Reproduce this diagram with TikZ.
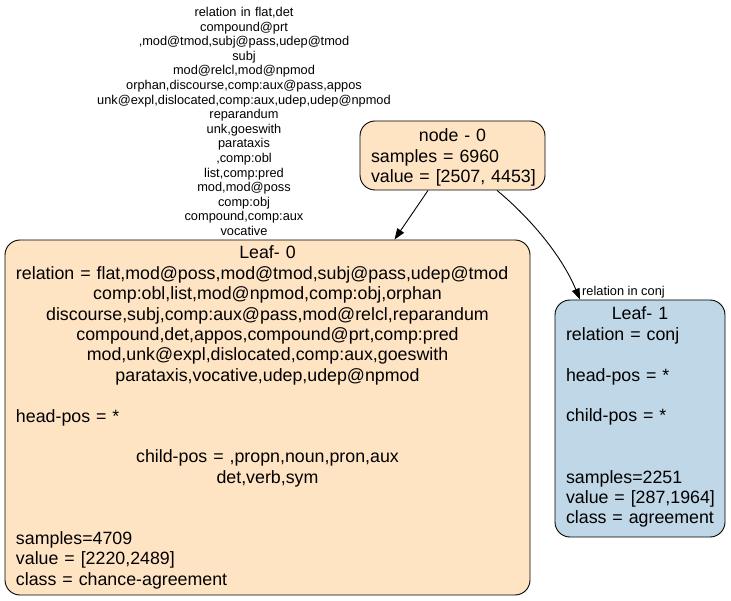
\documentclass[tikz,border=0pt]{standalone}
\usepackage{fontspec}
\setmainfont{Liberation Sans}
\usetikzlibrary{arrows.meta}
\definecolor{bisquec}{HTML}{FFE4C4}
\definecolor{leafblue}{HTML}{BFD7E6}
\tikzset{
  box/.style={draw=black, line width=0.9pt, rounded corners=15pt, inner sep=0pt},
  txt/.style={anchor=base, inner sep=0pt, align=center, font=\fontsize{17.8}{20.4}\selectfont},
  elabel/.style={anchor=base, inner sep=0pt, align=center, font=\fontsize{12.8}{14.6}\selectfont},
  edge/.style={line width=0.9pt, -{Triangle[length=11pt,width=8pt]}},
}
\newcommand{\lft}[1]{\makebox[\linewidth][l]{#1}}
\begin{document}
\begin{tikzpicture}[x=1pt,y=-1pt]
\useasboundingbox (0,0) rectangle (731,601);
% boxes
\node[box, fill=bisquec, minimum width=185pt, minimum height=69pt] (n0) at (452.5,155.5) {};
\node[box, fill=bisquec, minimum width=525pt, minimum height=355pt] (l0) at (267.5,417.5) {};
\node[box, fill=leafblue, minimum width=170pt, minimum height=237pt] (l1) at (640,418.5) {};
% texts
\node[txt, text width=163pt] (t0) at (452.5,142) {node - 0\\ \lft{samples = 6960}\\ \lft{value = [2507, 4453]}};
\node[txt, text width=503pt] (t1) at (267.5,259) {Leaf- 0\\
\lft{relation = flat,mod@poss,mod@tmod,subj@pass,udep@tmod}\\
comp:obl,list,mod@npmod,comp:obj,orphan\\
discourse,subj,comp:aux@pass,mod@relcl,reparandum\\
compound,det,appos,compound@prt,comp:pred\\
mod,unk@expl,dislocated,comp:aux,goeswith\\
parataxis,vocative,udep,udep@npmod\\
\mbox{}\\
\lft{head-pos = *}\\
\mbox{}\\
child-pos = ,propn,noun,pron,aux\\
det,verb,sym\\
\mbox{}\\
\mbox{}\\
\lft{samples=4709}\\
\lft{value = [2220,2489]}\\
\lft{class = chance-agreement}};
\node[txt, text width=148pt] (t2) at (640,320) {Leaf- 1\\
\lft{relation = conj}\\
\mbox{}\\
\lft{head-pos = *}\\
\mbox{}\\
\lft{child-pos = *}\\
\mbox{}\\
\mbox{}\\
\lft{samples=2251}\\
\lft{value = [287,1964]}\\
\lft{class = agreement}};
% edge labels
\node[elabel, text width=320pt] (e0) at (244,16.5) {relation in flat,det\\
compound@prt\\
,mod@tmod,subj@pass,udep@tmod\\
subj\\
mod@relcl,mod@npmod\\
orphan,discourse,comp:aux@pass,appos\\
unk@expl,dislocated,comp:aux,udep,udep@npmod\\
reparandum\\
unk,goeswith\\
parataxis\\
,comp:obl\\
list,comp:pred\\
mod,mod@poss\\
comp:obj\\
compound,comp:aux\\
vocative};
\node[elabel, anchor=base west] (e1) at (582,295.5) {relation in conj};
% edges
\draw[edge] ([xshift=-24.5pt]n0.south) -- ([xshift=127pt]l0.north);
\draw[edge] ([xshift=44.5pt]n0.south) .. controls +(28,23) and +(-20,-48) .. ([xshift=-60pt]l1.north);
\end{tikzpicture}
\end{document}
